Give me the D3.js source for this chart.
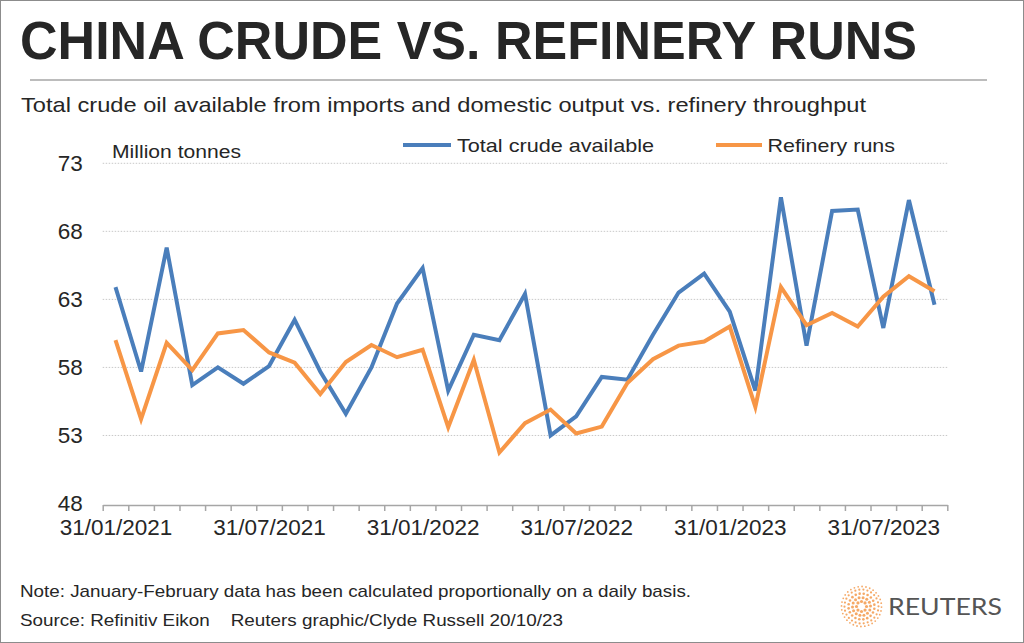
<!DOCTYPE html>
<html>
<head>
<meta charset="utf-8">
<script src="https://cdn.jsdelivr.net/npm/d3@7"></script>
<style>
  html, body { margin: 0; padding: 0; background: #fff; }
  svg { display: block; }
</style>
</head>
<body>
<div id="chart"></div>
<script>
// monthly categories, Jan 2021 .. Sep 2023
const months = [
  '2021-01', '2021-02', '2021-03', '2021-04', '2021-05', '2021-06',
  '2021-07', '2021-08', '2021-09', '2021-10', '2021-11', '2021-12',
  '2022-01', '2022-02', '2022-03', '2022-04', '2022-05', '2022-06',
  '2022-07', '2022-08', '2022-09', '2022-10', '2022-11', '2022-12',
  '2023-01', '2023-02', '2023-03', '2023-04', '2023-05', '2023-06',
  '2023-07', '2023-08', '2023-09'
];
const totalCrude = [
  63.9, 57.7, 66.8, 56.7, 58.0, 56.8, 58.1, 61.5, 57.7, 54.6, 58.0, 62.7,
  65.3, 56.3, 60.4, 60.0, 63.4, 53.0, 54.4, 57.3, 57.1, 60.4, 63.5, 64.9,
  62.1, 56.3, 70.5, 59.6, 69.5, 69.6, 60.9, 70.3, 62.6
];
const refineryRuns = [
  60.0, 54.2, 59.8, 57.8, 60.5, 60.75, 59.1, 58.35, 56.05, 58.4, 59.65, 58.75,
  59.3, 53.6, 58.55, 51.75, 53.9, 54.9, 53.15, 53.65, 56.85, 58.6, 59.6, 59.9,
  61.0, 55.1, 63.9, 61.1, 62.0, 61.0, 63.2, 64.7, 63.6
];
const tickMonths = ['2021-01', '2021-07', '2022-01', '2022-07', '2023-01', '2023-07'];
const tickLabels = ['31/01/2021', '31/07/2021', '31/01/2022', '31/07/2022', '31/01/2023', '31/07/2023'];
const yTicks = [48, 53, 58, 63, 68, 73];
const seriesNames = ['Total crude available', 'Refinery runs'];

const colors = ['#4a7ebb', '#f79646'];
const width = 1024, height = 643;
const plotLeft = 102.7, plotRight = 947.3, plotTop = 163.3, plotBottom = 505;
const font = '"Liberation Sans", Arial, sans-serif';

const svg = d3.select('#chart').append('svg')
  .attr('width', width)
  .attr('height', height)
  .style('font-family', font);

svg.append('rect')
  .attr('x', 0.5).attr('y', 0.5)
  .attr('width', width - 1).attr('height', height - 1)
  .attr('fill', '#fff')
  .attr('stroke', '#8c8c8c');

// title block
svg.append('text')
  .attr('x', 20).attr('y', 59)
  .attr('font-family', '"Liberation Sans Narrow", "Liberation Sans", Arial, sans-serif')
  .attr('font-weight', 'bold')
  .attr('font-size', 54)
  .attr('fill', '#262626')
  .attr('textLength', 897)
  .attr('lengthAdjust', 'spacingAndGlyphs')
  .text('CHINA CRUDE VS. REFINERY RUNS');

svg.append('line')
  .attr('x1', 30).attr('x2', 987)
  .attr('y1', 80).attr('y2', 80)
  .attr('stroke', '#a6a6a6')
  .attr('stroke-width', 1.5);

svg.append('text')
  .attr('x', 21).attr('y', 111.5)
  .attr('font-size', 21)
  .attr('fill', '#262626')
  .attr('textLength', 845)
  .attr('lengthAdjust', 'spacingAndGlyphs')
  .text('Total crude oil available from imports and domestic output vs. refinery throughput');

// scales
const x = d3.scaleLinear().domain([0, months.length]).range([plotLeft, plotRight]);
const y = d3.scaleLinear().domain([48, 73]).range([plotBottom - 1.5, plotTop]);
const xc = (m) => x(months.indexOf(m) + 0.5);

// gridlines
svg.append('g')
  .selectAll('line')
  .data(yTicks.slice(1))
  .join('line')
  .attr('x1', plotLeft).attr('x2', plotRight)
  .attr('y1', (d) => y(d)).attr('y2', (d) => y(d))
  .attr('stroke', '#c8c8c8')
  .attr('stroke-width', 1)
  .attr('stroke-dasharray', '1.5,1.5');

// y axis labels (no axis line)
const yAxis = svg.append('g')
  .attr('transform', `translate(${plotLeft - 20},0)`)
  .call(d3.axisLeft(y).tickValues(yTicks).tickSize(0).tickFormat(d3.format('d')));
yAxis.select('.domain').remove();
yAxis.selectAll('text')
  .attr('x', 0)
  .attr('font-family', font)
  .attr('font-size', 22.5)
  .attr('fill', '#262626');

// x axis: tick marks on category boundaries
const xAxis = svg.append('g')
  .attr('transform', `translate(0,${plotBottom})`)
  .call(d3.axisBottom(x).tickValues(d3.range(months.length + 1)).tickSize(6).tickSizeOuter(0).tickFormat(''));
xAxis.select('.domain').attr('stroke', '#a6a6a6').attr('stroke-width', 1.5);
xAxis.selectAll('.tick line').attr('stroke', '#a6a6a6').attr('stroke-width', 1.5);

const xLabels = svg.append('g')
  .attr('transform', `translate(0,${plotBottom})`)
  .call(d3.axisBottom(x)
    .tickValues(tickMonths.map((m) => months.indexOf(m) + 0.5))
    .tickSize(0)
    .tickFormat((d, i) => tickLabels[i]));
xLabels.select('.domain').remove();
xLabels.selectAll('text')
  .attr('y', 14)
  .attr('font-family', font)
  .attr('font-size', 22.5)
  .attr('fill', '#262626');

// series
const line = d3.line()
  .x((d, i) => xc(months[i]))
  .y((d) => y(d));

[totalCrude, refineryRuns].forEach((s, k) => {
  svg.append('path')
    .datum(s)
    .attr('d', line)
    .attr('fill', 'none')
    .attr('stroke', colors[k])
    .attr('stroke-width', 4)
    .attr('stroke-linejoin', 'miter')
    .attr('stroke-linecap', 'butt');
});

// unit label
svg.append('text')
  .attr('x', 112).attr('y', 157.5)
  .attr('font-size', 18)
  .attr('fill', '#262626')
  .attr('textLength', 129)
  .attr('lengthAdjust', 'spacingAndGlyphs')
  .text('Million tonnes');

// legend
const legendPos = [
  { x1: 403, x2: 451, tx: 457, tw: 197 },
  { x1: 716, x2: 762, tx: 767.5, tw: 127.5 }
];
const legend = svg.append('g')
  .selectAll('g')
  .data(seriesNames)
  .join('g');
legend.append('line')
  .attr('x1', (d, i) => legendPos[i].x1)
  .attr('x2', (d, i) => legendPos[i].x2)
  .attr('y1', 145).attr('y2', 145)
  .attr('stroke', (d, i) => colors[i])
  .attr('stroke-width', 4);
legend.append('text')
  .attr('x', (d, i) => legendPos[i].tx)
  .attr('y', 151.5)
  .attr('font-size', 19)
  .attr('fill', '#262626')
  .attr('textLength', (d, i) => legendPos[i].tw)
  .attr('lengthAdjust', 'spacingAndGlyphs')
  .text((d) => d);

// footnotes
svg.append('text')
  .attr('x', 20).attr('y', 597)
  .attr('font-size', 17)
  .attr('fill', '#262626')
  .attr('textLength', 671)
  .attr('lengthAdjust', 'spacingAndGlyphs')
  .text('Note: January-February data has been calculated proportionally on a daily basis.');

svg.append('text')
  .attr('x', 20).attr('y', 626)
  .attr('font-size', 17)
  .attr('fill', '#262626')
  .style('white-space', 'pre')
  .attr('textLength', 543)
  .attr('lengthAdjust', 'spacingAndGlyphs')
  .text('Source: Refinitiv Eikon    Reuters graphic/Clyde Russell 20/10/23');

// Reuters logo: ring of small dots
const logo = svg.append('g').attr('transform', 'translate(861.5,606.5)');
const rings = [
  { r: 5, n: 8, s: 1.6 },
  { r: 9, n: 14, s: 1.5 },
  { r: 13, n: 20, s: 1.3 },
  { r: 17, n: 26, s: 1.1 },
  { r: 20, n: 32, s: 0.9 }
];
rings.forEach((ring, j) => {
  logo.selectAll(null)
    .data(d3.range(ring.n))
    .join('circle')
    .attr('cx', (d) => ring.r * Math.cos((d / ring.n) * 2 * Math.PI + j * 0.4))
    .attr('cy', (d) => ring.r * Math.sin((d / ring.n) * 2 * Math.PI + j * 0.4))
    .attr('r', ring.s)
    .attr('fill', '#f39a4c')
    .attr('opacity', 0.85);
});
logo.append('circle').attr('r', 3).attr('fill', '#fff');

svg.append('text')
  .attr('x', 888).attr('y', 615)
  .attr('font-family', 'Lato, "Open Sans", sans-serif')
  .attr('font-size', 23.5)
  .attr('fill', '#555')
  .attr('textLength', 114)
  .attr('lengthAdjust', 'spacingAndGlyphs')
  .text('REUTERS');
</script>
</body>
</html>
